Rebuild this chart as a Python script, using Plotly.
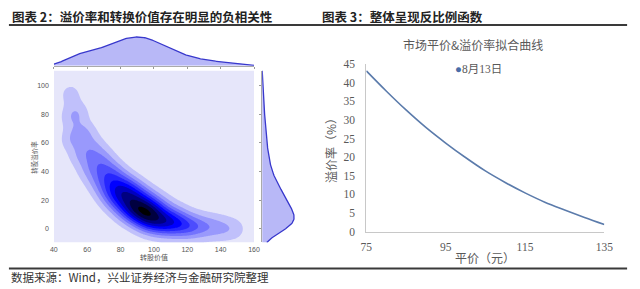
import numpy as np
import plotly.graph_objects as go

# ---------------- Left panel data: bonds (conversion value, premium %, count) ----------------
conv_value = [50, 50, 50, 55, 55, 55, 60, 60, 60, 65, 65, 65, 70, 70, 70, 75, 75, 75,
              80, 80, 80, 85, 85, 85, 90, 90, 90, 95, 95, 95, 100, 100, 100, 105, 105, 105,
              110, 110, 110, 115, 115, 115, 120, 120, 120, 125, 125, 125, 130, 130, 130,
              135, 135, 135, 140, 140, 140, 145, 145, 150, 150]
premium = [62, 78, 94, 51, 66, 81, 41, 54, 67, 33, 45, 57, 26, 37, 49, 20, 30, 41,
           15, 25, 35, 11, 20, 30, 8, 16, 26, 5, 13, 22, 3, 11, 19, 2, 8, 16,
           1, 6, 13, 0, 5, 10, 0, 3, 8, 0, 2, 6, 0, 1, 5,
           -1, 1, 4, -1, 1, 3, -1, 1, -1, 1]
bond_count = [3, 3, 3, 3, 3, 3, 3, 3, 3, 3, 4, 3, 4, 5, 4, 5, 6, 5,
              5, 8, 5, 6, 8, 6, 6, 9, 6, 7, 9, 5, 6, 8, 4, 5, 6, 3,
              4, 5, 2, 3, 4, 2, 3, 3, 1, 2, 2, 1, 2, 1, 1,
              1, 1, 1, 1, 1, 1, 1, 1, 1, 1]

x_ticks = [40, 60, 80, 100, 120, 140, 160]
y_ticks = [0, 20, 40, 60, 80, 100]

# ---------------- Right panel data: parity vs premium fit ----------------
parity = [75, 80, 85, 90, 95, 100, 105, 110, 115, 120, 125, 130, 135]
premium_fit = [43.2, 37.8, 32.7, 28.0, 23.8, 19.9, 16.3, 13.2, 10.4, 7.9, 5.8, 3.8, 1.9]
series_name = "8月13日"

# ---------------- KDE computation ----------------
cv = np.array(conv_value, float)
pr = np.array(premium, float)
wt = np.array(bond_count, float)

gx = np.linspace(40, 160, 241)
gy = np.linspace(-9.4, 110.5, 241)
hx, hy = 4.9, 6.0
X, Y = np.meshgrid(gx, gy)
Z = np.zeros_like(X)
for xi, yi, wi in zip(cv, pr, wt):
    Z += wi * np.exp(-0.5 * ((X - xi) / hx) ** 2 - 0.5 * ((Y - yi) / hy) ** 2)
Z /= Z.max()

mhx, mhy = 6.5, 6.5
dx = np.zeros_like(gx)
for xi, wi in zip(cv, wt):
    dx += wi * np.exp(-0.5 * ((gx - xi) / mhx) ** 2)
dx /= dx.max()
dy = np.zeros_like(gy)
for yi, wi in zip(pr, wt):
    dy += wi * np.exp(-0.5 * ((gy - yi) / mhy) ** 2)
dy /= dy.max()

W, H = 640, 289
def px(x):
    return x / W
def py(y):
    return 1 - y / H

fig = go.Figure()

fig.add_trace(go.Contour(
    x=gx, y=gy, z=Z, xaxis="x", yaxis="y",
    zmin=0, zmax=1,
    contours=dict(start=0.07, end=0.97, size=0.1, coloring="fill", showlines=False),
    line=dict(width=0),
    colorscale=[[0, "#e6e6fa"], [0.6, "#0000ff"], [1, "#000000"]],
    showscale=False, hoverinfo="skip"))

fill_c = "rgba(20,20,230,0.30)"
line_c = "#3838cc"
fig.add_trace(go.Scatter(x=gx, y=dx, xaxis="x2", yaxis="y2", mode="lines",
                         fill="tozeroy", fillcolor=fill_c, line=dict(color=line_c, width=1.3),
                         showlegend=False, hoverinfo="skip"))
fig.add_trace(go.Scatter(x=dy, y=gy, xaxis="x3", yaxis="y3", mode="lines",
                         fill="tozerox", fillcolor=fill_c, line=dict(color=line_c, width=1.3),
                         showlegend=False, hoverinfo="skip"))

fig.add_trace(go.Scatter(x=parity, y=premium_fit, xaxis="x4", yaxis="y4", mode="lines",
                         line=dict(color="#5b7bab", width=1.6, shape="spline"),
                         name=series_name, showlegend=False))

small = dict(family="Liberation Sans, Arial", size=7, color="#555555")
serif = dict(family="Liberation Serif, Times New Roman", size=11.5, color="#595959")

main_x = [px(49), px(254)]
main_y = [py(246.7), py(67.3)]

fig.update_layout(
    width=W, height=H, margin=dict(l=0, r=0, t=0, b=0),
    paper_bgcolor="white", plot_bgcolor="white", showlegend=False,
    xaxis=dict(domain=main_x, range=[40, 160], tickvals=x_ticks, showgrid=False, zeroline=False,
               showline=False, ticks="", tickfont=small, ticklabelstandoff=2, anchor="y"),
    yaxis=dict(domain=main_y, range=[-9.4, 110.5], tickvals=y_ticks, showgrid=False, zeroline=False,
               showline=False, ticks="", tickfont=small, ticklabelstandoff=4, anchor="x"),
    xaxis2=dict(domain=main_x, range=[40, 160], tickvals=x_ticks, showticklabels=False,
                showgrid=False, zeroline=False, showline=True, linecolor="#aaaaaa", linewidth=1,
                ticks="outside", ticklen=2, tickcolor="#999999", anchor="y2"),
    yaxis2=dict(domain=[py(62.3), py(22)], range=[0, 1 / 0.744], visible=False, anchor="x2"),
    xaxis3=dict(domain=[px(262.3), px(302)], range=[0, 1 / 0.824], visible=False, anchor="y3"),
    yaxis3=dict(domain=main_y, range=[-9.4, 110.5], tickvals=y_ticks, showticklabels=False,
                showgrid=False, zeroline=False, showline=True, linecolor="#aaaaaa", linewidth=1,
                ticks="outside", ticklen=2, tickcolor="#999999", anchor="x3"),
    xaxis4=dict(domain=[px(369), px(612.7)], range=[75, 135], tickvals=[75, 95, 115, 135],
                showgrid=False, zeroline=False, showline=True, linecolor="#c8c8c8", linewidth=1,
                ticks="", tickfont=serif, ticklabelstandoff=5, anchor="y4"),
    yaxis4=dict(domain=[py(235.3), py(60.7)], range=[0, 45], tickvals=list(range(0, 50, 5)),
                showgrid=False, zeroline=False, showline=True, linecolor="#c8c8c8", linewidth=1,
                ticks="", tickfont=serif, ticklabelstandoff=8, anchor="x4"),
)

cjk = "Noto Sans CJK SC"
ann = []
ann.append(dict(text="<b>图表 2：溢价率和转换价值存在明显的负相关性</b>", x=px(4), y=py(10.5),
                xanchor="left", yanchor="middle", font=dict(family=cjk, size=12.5, color="#222222")))
ann.append(dict(text="<b>图表 3：整体呈现反比例函数</b>", x=px(322), y=py(10.5),
                xanchor="left", yanchor="middle", font=dict(family=cjk, size=12.5, color="#222222")))
ann.append(dict(text="数据来源：Wind，兴业证券经济与金融研究院整理", x=px(3), y=py(283),
                xanchor="left", yanchor="middle", font=dict(family=cjk, size=11.5, color="#333333")))
ann.append(dict(text="转股价值", x=px(152), y=py(262), xanchor="center", yanchor="middle",
                font=dict(family=cjk, size=7, color="#555555")))
ann.append(dict(text="转股溢价率", x=px(29), y=py(158), xanchor="center", yanchor="middle",
                textangle=-90, font=dict(family=cjk, size=6.5, color="#555555")))
ann.append(dict(text="市场平价&溢价率拟合曲线", x=px(478), y=py(40), xanchor="center", yanchor="middle",
                font=dict(family=cjk, size=12, color="#595959")))
ann.append(dict(text="<span style='color:#4a6da8'>●</span>" + series_name, x=px(458), y=py(66),
                xanchor="left", yanchor="middle", font=dict(family="Liberation Serif, " + cjk, size=11.5, color="#595959")))
ann.append(dict(text="溢价率（%）", x=px(333), y=py(148), xanchor="center", yanchor="middle",
                textangle=-90, font=dict(family=cjk, size=12, color="#595959")))
ann.append(dict(text="平价（元）", x=px(490), y=py(262), xanchor="center", yanchor="middle",
                font=dict(family=cjk, size=12, color="#595959")))
for a in ann:
    a.update(xref="paper", yref="paper", showarrow=False)
fig.update_layout(annotations=ann)

shapes = []
for (x0, x1, yy) in [(3, 636, 19.8), (3, 636, 274)]:
    shapes.append(dict(type="line", xref="paper", yref="paper", x0=px(x0), x1=px(x1),
                       y0=py(yy), y1=py(yy), line=dict(color="#3a3a3a", width=2)))
fig.update_layout(shapes=shapes)

fig.write_html("out.html")
